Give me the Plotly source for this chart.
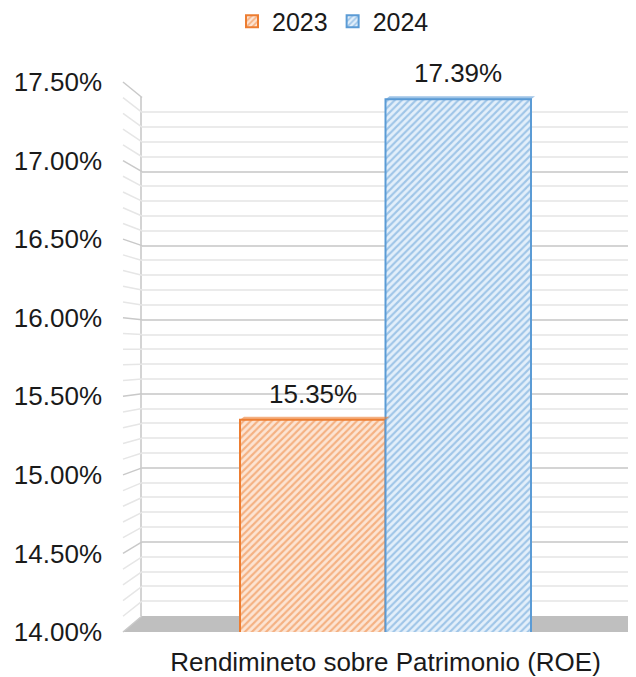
import numpy as np
import plotly.graph_objects as go

# ---- data ----
categories = ["Rendimineto sobre Patrimonio (ROE)"]
years = ["2023", "2024"]
roe_2023 = [15.35]
roe_2024 = [17.39]
y_ticks = [14.0, 14.5, 15.0, 15.5, 16.0, 16.5, 17.0, 17.5]
y_tick_text = [f"{v:.2f}%" for v in y_ticks]
y_min, y_max = 14.0, 17.5

# ---- styling / geometry ----
FONT = "Liberation Sans, Arial, sans-serif"
OFF = 8  # page body margin
W, H = 636 - OFF, 677 - OFF
ML, MR = 123 - OFF, 0
MT = 81.5 - OFF
MB = H - (632 - OFF)
PW = W - ML - MR
PH = H - MT - MB


def px_x(sx):  # screen x -> paper fraction
    return (sx - OFF - ML) / PW


def px_y(sy):  # screen y -> paper fraction
    return (H - MB - (sy - OFF)) / PH


# back wall domain (paper fractions)
back_x = [px_x(142), px_x(630)]
back_y = [px_y(616), px_y(97)]

# front plane x range
bar_w = 145.5 / PW
c0 = px_x(385.5)
x_range = [-c0, 1 - c0]

orange = "#ED7D31"
blue = "#5B9BD5"

fig = go.Figure()

# back-wall subplot (only for gridlines)
fig.add_trace(go.Scatter(x=[None], y=[None], xaxis="x", yaxis="y",
                         showlegend=False, hoverinfo="skip"))

# front bars
series = [(years[0], roe_2023, orange, "#FCE4D3", -bar_w),
          (years[1], roe_2024, blue, "#E3EFFA", 0.0)]
for name, vals, col, bg, off in series:
    fig.add_trace(go.Bar(
        x=[0] * len(vals), y=vals, name=name, xaxis="x2", yaxis="y2",
        offset=off, width=bar_w,
        marker=dict(color=bg,
                    pattern=dict(shape="/", fgcolor=col, bgcolor=bg,
                                 size=5, solidity=0.42, fillmode="overlay"),
                    line=dict(color=col, width=2)),
        cliponaxis=True,
    ))

shapes = []
# side wall diagonal lines
for v in np.round(np.arange(y_min, y_max + 1e-9, 0.1), 2):
    fy = (v - y_min) / (y_max - y_min)
    by = back_y[0] + fy * (back_y[1] - back_y[0])
    major = abs(v * 2 - round(v * 2)) < 1e-6
    shapes.append(dict(type="line", xref="paper", yref="paper",
                       x0=0, y0=fy, x1=back_x[0], y1=by,
                       line=dict(color="#C9C9C9" if major else "#E6E6E6", width=1.5)))
# floor
shapes.append(dict(type="path", xref="paper", yref="paper", layer="below",
                   path=f"M 0 0 L 1.03 0 L {back_x[1]} {back_y[0]} L {back_x[0]} {back_y[0]} Z",
                   fillcolor="#BFBFBF", line=dict(width=0)))
# bar top faces
dx = 4 / PW
dy_val = 3 / PH * (y_max - y_min)
for name, vals, col, bg, off in series:
    for i, v in enumerate(vals):
        x0 = i + off
        x1 = x0 + bar_w
        shapes.append(dict(type="path", xref="x2", yref="y2",
                           path=f"M {x0} {v} L {x1} {v} L {x1 + dx} {v + dy_val} L {x0 + dx} {v + dy_val} Z",
                           fillcolor=col, opacity=0.6, line=dict(width=0)))

annotations = []
for name, vals, col, bg, off in series:
    for i, v in enumerate(vals):
        annotations.append(dict(x=i + off + bar_w / 2, y=v, xref="x2", yref="y2",
                                text=f"{v:.2f}%", showarrow=False, yshift=26,
                                font=dict(family=FONT, size=26, color="#1a1a1a")))

fig.update_layout(
    width=W, height=H,
    margin=dict(l=ML, r=MR, t=MT, b=MB, pad=0, autoexpand=False),
    paper_bgcolor="white", plot_bgcolor="rgba(0,0,0,0)",
    font=dict(family=FONT, size=24, color="#1a1a1a"),
    barmode="overlay",
    xaxis=dict(domain=back_x, range=[0, 1], showgrid=False, zeroline=False,
               showticklabels=False, showline=False, fixedrange=True),
    yaxis=dict(domain=back_y, range=[y_min, y_max], tickvals=y_ticks,
               showticklabels=False, gridcolor="#D4D4D4", gridwidth=1.5,
               zeroline=False, showline=True, linecolor="#D4D4D4", linewidth=1.5,
               mirror=True, ticks="",
               minor=dict(dtick=0.1, showgrid=True, gridcolor="#EBEBEB", gridwidth=1.5)),
    xaxis2=dict(domain=[0, 1], range=x_range, anchor="y2", tickvals=[0],
                ticktext=categories, showgrid=False, zeroline=False, showline=False,
                ticks="", ticklabelstandoff=12, tickfont=dict(size=26)),
    yaxis2=dict(domain=[0, 1], range=[y_min, y_max], anchor="x2", tickvals=y_ticks,
                ticktext=y_tick_text, showgrid=False, zeroline=False,
                showline=False, ticks="", ticklabelstandoff=20, tickfont=dict(size=26)),
    legend=dict(orientation="h", x=px_x(333), xanchor="center",
                y=px_y(21), yanchor="middle",
                font=dict(size=25), bgcolor="rgba(0,0,0,0)", traceorder="normal"),
    shapes=shapes,
    annotations=annotations,
)

fig.write_html("out.html")
